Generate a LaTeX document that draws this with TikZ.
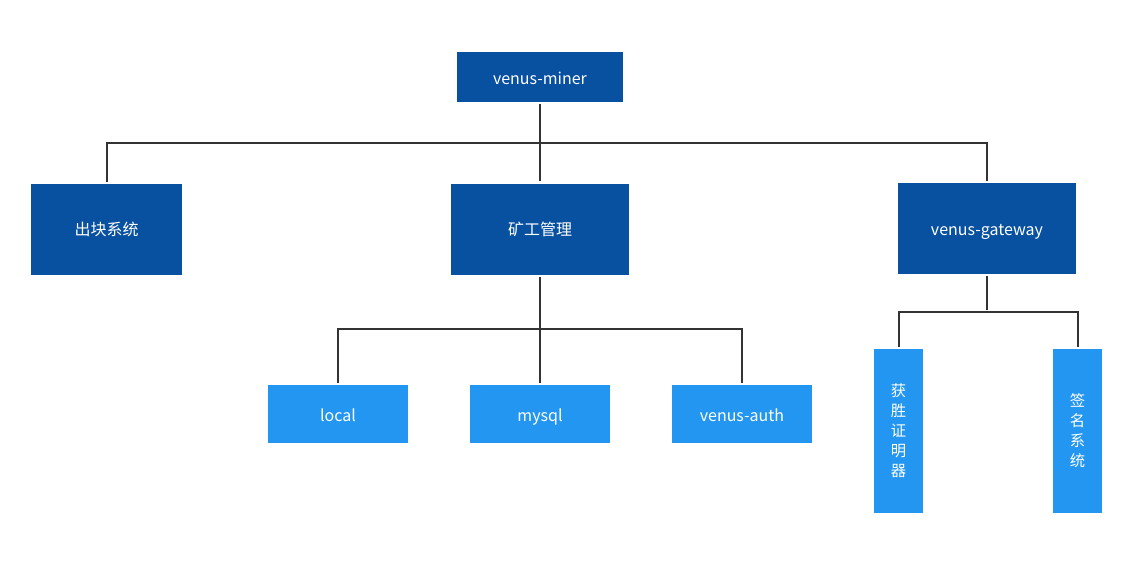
\documentclass[tikz,border=0pt]{standalone}
\usepackage{fontspec}
\setmainfont{Noto Sans CJK SC}
\begin{document}
\begin{tikzpicture}[x=0.75pt,y=-0.75pt,
  dark/.style={rectangle,fill=darkblue,text=white,inner sep=0pt,font=\fontsize{12pt}{14pt}\selectfont},
  light/.style={rectangle,fill=lightblue,text=white,inner sep=0pt,font=\fontsize{12pt}{14pt}\selectfont},
  latin/.style={text height=10.5pt,text depth=0pt},
  vert/.style={light,align=center,font=\fontsize{11.5pt}{15pt}\selectfont},
  conn/.style={draw=linegray,line width=1.5pt,shorten <=1.5pt,shorten >=1.5pt}]
\definecolor{darkblue}{HTML}{0850A0}
\definecolor{lightblue}{HTML}{2396F1}
\definecolor{linegray}{HTML}{333333}
\useasboundingbox (0,0) rectangle (1137,586);
\fill[white] (0,0) rectangle (1137,586);
\node[dark,latin,minimum width=124.5pt,minimum height=37.5pt] (miner) at (540,77) {venus-miner};
\node[dark,minimum width=113.25pt,minimum height=68.25pt] (blk) at (106.5,229.5) {出块系统};
\node[dark,minimum width=133.5pt,minimum height=68.25pt] (mgr) at (540,229) {矿工管理};
\node[dark,latin,minimum width=133.5pt,minimum height=68.25pt] (gw) at (987,228.5) {venus-gateway};
\node[light,latin,minimum width=105pt,minimum height=43.5pt] (local) at (338,414) {local};
\node[light,latin,minimum width=105pt,minimum height=43.5pt] (mysql) at (540,414) {mysql};
\node[light,latin,minimum width=105pt,minimum height=43.5pt] (auth) at (742,414) {venus-auth};
\node[vert,minimum width=36.75pt,minimum height=123pt] (win) at (898.5,431) {获\\胜\\证\\明\\器};
\node[vert,minimum width=36.75pt,minimum height=123pt] (sig) at (1077.5,431) {签\\名\\系\\统};
\coordinate (j1) at (540,143);
\coordinate (j2) at (540,329);
\coordinate (j3) at (987,312);
\draw[conn] (miner.south) -- (mgr.north);
\draw[conn] (blk.north) |- (j1) -| (gw.north);
\draw[conn] (mgr.south) -- (mysql.north);
\draw[conn] (local.north) |- (j2) -| (auth.north);
\draw[conn] (gw.south) -- (j3);
\draw[conn,shorten >=0pt] (win.north) |- (j3);
\draw[conn,shorten >=0pt] (sig.north) |- (j3);
\end{tikzpicture}
\end{document}
